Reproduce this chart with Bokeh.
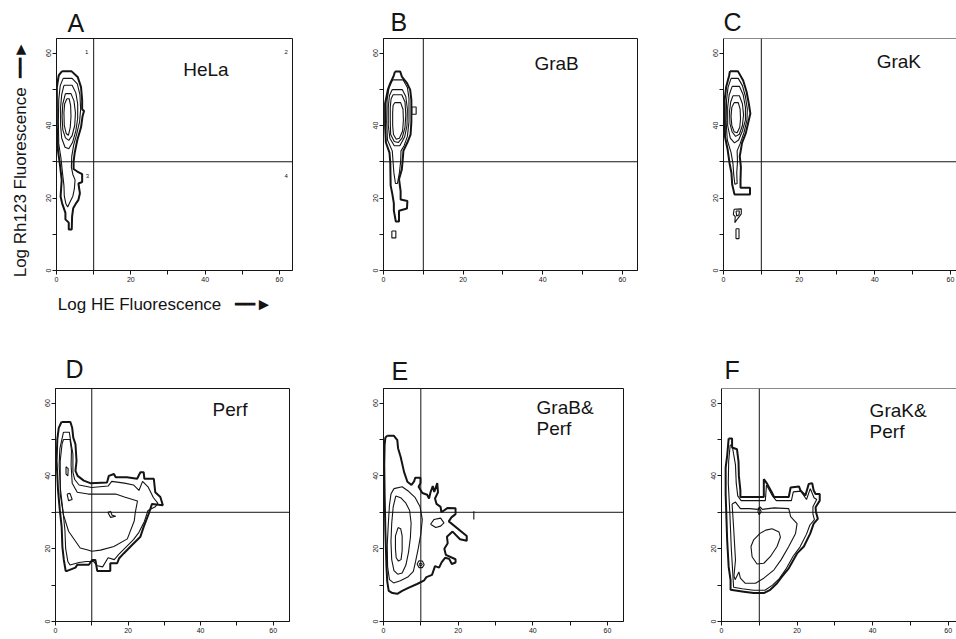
from bokeh.plotting import figure
from bokeh.layouts import row, column
from bokeh.models import Range1d, Span, Label, FixedTicker
from bokeh.embed import file_html
from bokeh.resources import INLINE

# ---------------- data ----------------
AXIS_MAX = 64
LABELED_TICKS = [0, 20, 40, 60]
UNLABELED_TICKS = [10, 30, 50]
gate_x = 10          # vertical quadrant marker (Log HE)
gate_y = 30          # horizontal quadrant marker (Log Rh123)

panel_letters = ["A", "B", "C", "D", "E", "F"]
panel_names = [["HeLa"], ["GraB"], ["GraK"], ["Perf"], ["GraB&", "Perf"], ["GraK&", "Perf"]]
quadrant_numbers = ["1", "2", "3", "4"]
x_axis_title = "Log HE Fluorescence"
y_axis_title = "Log Rh123 Fluorescence"
ARROW = "\u2501\u2501\u25BA"

# contour lines: (Log HE, Log Rh123)
A_c1 = [(1.5,55.0),(4.0,55.0),(5.7,53.4),(6.6,50.6),(6.9,47.0),(6.9,44.5),(7.4,44.0),(7.0,42.5),(6.6,39.5),
        (5.6,36.0),(4.9,32.5),(4.6,30.0),(4.6,28.0),(5.6,27.3),(6.9,26.6),(6.9,24.4),(5.9,24.0),(6.3,21.3),
        (5.9,19.5),(5.3,18.6),(4.5,17.2),(4.2,14.9),(4.1,11.3),(3.3,11.3),(3.3,13.2),(2.4,14.1),(2.4,15.9),
        (1.5,18.6),(1.1,20.4),(1.4,25.0),(0.9,29.4),(0.4,33.1),(0.1,39.5),(0.1,50.6),(0.6,53.8),(1.5,55.0)]
A_c2 = [(1.8,53.0),(4.2,53.0),(5.6,51.5),(6.3,48.5),(6.5,44.5),(6.2,41.0),(5.4,37.5),(4.6,34.5),(4.1,31.5),
        (4.0,28.5),(4.4,26.5),(5.0,25.0),(4.8,22.5),(4.4,20.5),(3.6,18.8),(3.0,17.5),(2.5,18.5),(2.1,20.5),
        (2.0,23.5),(1.6,27.0),(1.2,31.0),(0.6,35.0),(0.5,41.0),(0.6,47.0),(1.0,51.0),(1.8,53.0)]
A_c3 = [(2.0,51.1),(4.2,51.1),(5.2,49.0),(5.7,46.0),(5.7,42.0),(5.2,38.5),(4.3,35.3),(3.3,33.6),(2.3,34.0),
        (1.4,36.5),(1.1,40.0),(1.1,45.0),(1.4,48.5),(2.0,51.1)]
A_c4 = [(2.4,48.8),(3.9,48.8),(4.7,46.8),(5.1,43.5),(4.9,40.0),(4.2,37.2),(3.3,35.9),(2.4,36.6),(1.7,38.8),
        (1.5,42.5),(1.7,46.0),(2.4,48.8)]
A_c5 = [(2.8,47.4),(3.4,47.4),(3.8,45.5),(3.9,42.5),(3.7,39.5),(3.2,37.3),(2.6,37.8),(2.1,40.0),(2.0,43.5),
        (2.2,46.0),(2.8,47.4)]

B_c1 = [(2.9,54.9),(4.2,54.9),(4.6,53.5),(5.9,51.7),(6.7,49.9),(7.0,47.0),(7.0,41.0),(6.8,37.5),(6.0,35.3),
        (5.0,33.0),(4.8,30.2),(4.6,27.9),(3.9,25.2),(4.3,21.9),(4.3,19.6),(6.0,19.2),(5.9,17.1),(3.9,16.5),
        (3.9,13.5),(3.1,13.5),(2.6,16.5),(2.6,18.5),(2.2,21.2),(1.8,23.4),(1.7,29.8),(1.5,32.5),(0.6,35.3),
        (0.4,40.0),(0.4,46.0),(1.1,49.9),(1.7,51.7),(2.5,53.5),(2.9,54.9)]
B_c2 = [(2.3,52.6),(4.9,52.6),(6.0,50.5),(6.4,47.5),(6.4,41.0),(6.0,37.0),(5.2,34.5),(4.4,33.0),(4.3,30.0),
        (4.0,27.0),(3.5,24.0),(3.0,24.0),(2.6,27.0),(2.4,30.0),(2.2,33.0),(1.0,36.0),(0.8,41.0),(0.9,47.0),
        (1.4,50.5),(2.3,52.6)]
B_c3 = [(2.2,49.9),(4.7,49.9),(5.6,48.0),(6.0,44.5),(5.9,40.0),(5.3,36.8),(4.1,34.4),(2.7,34.4),(1.6,36.5),
        (1.2,40.0),(1.2,45.0),(1.5,48.3),(2.2,49.9)]
B_c4 = [(2.4,48.5),(4.6,48.5),(5.4,46.5),(5.6,43.0),(5.4,39.5),(4.7,36.6),(3.7,35.3),(2.7,35.6),(1.8,37.5),
        (1.7,41.0),(1.7,45.0),(1.9,47.3),(2.4,48.5)]
B_c5 = [(2.8,46.3),(4.3,46.3),(4.9,44.5),(5.0,41.5),(4.8,38.5),(4.0,36.5),(3.2,36.2),(2.5,37.5),(2.3,40.0),
        (2.3,43.5),(2.4,45.5),(2.8,46.3)]
B_i1 = [(7.1,45.1),(8.2,45.1),(8.2,43.1),(7.1,43.1),(7.1,45.1)]
B_i2 = [(2.1,10.9),(3.1,10.9),(3.1,9.0),(2.1,9.0),(2.1,10.9)]

C_c1 = [(1.7,55.0),(3.8,55.0),(5.2,52.4),(6.1,49.3),(6.7,46.0),(7.1,43.3),(6.7,41.5),(5.9,37.9),(4.9,35.2),
        (4.3,31.5),(4.6,28.5),(4.5,25.1),(4.5,22.8),(7.0,22.8),(7.0,21.0),(2.9,21.0),(2.3,23.7),(2.1,26.9),
        (1.6,29.6),(1.1,33.3),(0.4,36.9),(0.3,47.0),(0.7,50.6),(1.5,53.8),(1.7,55.0)]
C_c2 = [(2.0,53.0),(3.9,53.0),(5.0,51.0),(5.8,48.0),(6.3,44.5),(6.2,41.5),(5.4,38.0),(4.4,35.0),(3.6,33.0),
        (3.7,30.0),(3.5,27.0),(3.6,24.0),(3.0,23.8),(2.7,26.5),(2.5,29.5),(2.0,32.5),(1.0,36.0),(0.7,41.0),
        (0.8,47.0),(1.2,50.5),(2.0,53.0)]
C_c3 = [(2.3,50.8),(4.2,50.8),(5.2,48.5),(5.8,45.0),(5.8,41.5),(5.0,38.5),(4.0,36.0),(2.9,35.2),(1.8,36.5),
        (1.1,40.0),(1.1,45.0),(1.5,48.5),(2.3,50.8)]
C_c4 = [(2.5,48.2),(4.2,48.2),(5.0,46.0),(5.3,43.0),(5.0,40.0),(4.2,37.6),(3.2,37.0),(2.3,38.2),(1.7,40.5),
        (1.6,44.0),(1.9,46.5),(2.5,48.2)]
C_c5 = [(2.8,46.3),(3.9,46.3),(4.4,44.5),(4.5,41.8),(4.3,39.5),(3.6,38.0),(2.8,38.3),(2.2,40.0),(2.0,42.5),
        (2.2,45.0),(2.8,46.3)]
C_i1 = [(2.8,16.9),(4.7,17.0),(4.7,15.6),(3.8,14.4),(3.0,13.2),(3.1,14.9),(2.6,15.4),(2.8,16.9)]
C_i2 = [(3.3,16.4),(4.2,16.4),(4.1,15.4),(3.5,15.0),(3.3,16.4)]
C_i3 = [(3.3,11.5),(4.1,11.5),(4.1,8.8),(3.3,8.8),(3.3,11.5)]

D_c1 = [(1.65,54.8),(4.1,54.8),(4.6,53.2),(4.9,50.5),(5.5,48.7),(5.8,44.1),(5.5,41.4),(6.1,40.0),(7.8,38.7),
        (9.6,38.0),(14.2,38.2),(14.7,40.0),(16.1,40.5),(16.6,39.6),(19.7,39.6),(22.5,39.2),(23.4,41.0),(24.3,41.0),
        (24.5,39.2),(27.1,39.2),(27.5,35.5),(28.9,34.2),(29.6,31.9),(26.6,32.3),(25.7,29.6),(24.3,26.0),
        (23.4,23.3),(21.1,21.0),(18.8,18.7),(17.5,17.3),(17.0,16.0),(15.1,16.0),(15.1,13.9),(11.5,13.9),
        (11.0,16.9),(10.1,16.9),(9.2,15.6),(6.0,15.6),(5.5,14.8),(3.2,13.9),(2.8,13.9),(2.3,16.9),(1.9,20.5),
        (1.7,26.0),(1.2,30.5),(0.7,36.0),(0.3,44.1),(0.5,50.0),(0.9,53.2),(1.65,54.8)]
D_c2 = [(2.2,52.0),(3.8,52.0),(4.2,49.5),(4.8,46.0),(4.8,41.0),(5.3,39.0),(6.5,37.5),(10.0,36.8),(14.5,37.2),
        (15.5,38.5),(19.0,38.0),(21.5,37.5),(23.0,36.0),(24.0,38.5),(25.5,37.0),(27.0,34.0),(28.2,32.5),
        (27.5,31.5),(25.5,30.5),(24.5,27.5),(23.0,24.5),(21.5,22.5),(19.5,20.5),(17.5,18.5),(16.2,17.0),
        (14.5,17.5),(13.0,15.0),(11.5,15.3),(10.5,16.5),(8.5,16.5),(6.5,16.2),(4.0,15.5),(3.4,16.5),(2.8,20.0),
        (2.6,25.0),(2.1,30.0),(1.4,36.0),(1.0,43.0),(1.2,47.5),(2.2,52.0)]
D_c3 = [(2.2,50.0),(4.0,50.0),(4.4,47.0),(4.3,43.0),(4.6,38.0),(6.0,35.5),(9.0,35.0),(13.0,35.0),(16.6,35.0),
        (19.0,34.2),(22.6,33.1),(22.0,30.0),(21.7,27.6),(19.8,22.7),(16.1,20.6),(12.4,19.6),(10.0,19.3),
        (8.7,19.7),(6.8,20.2),(3.6,24.8),(2.2,29.3),(1.3,35.0),(1.3,44.1),(1.8,48.7),(2.2,50.0)]
D_i1 = [(2.9,42.5),(3.5,42.0),(3.4,40.0),(2.9,40.5),(2.9,42.5)]
D_i2 = [(3.2,35.0),(4.0,35.2),(4.6,33.5),(3.6,33.2),(3.2,35.0)]
D_i3 = [(14.4,30.0),(15.2,30.2),(15.6,29.2),(16.6,28.9),(15.2,28.6),(14.4,30.0)]

E_c1 = [(1.0,51.0),(2.8,51.0),(3.7,49.8),(3.9,47.6),(4.6,45.2),(5.5,41.1),(6.4,38.4),(7.5,37.5),(8.2,38.5),
        (8.5,39.5),(9.9,39.5),(9.9,38.0),(9.4,37.0),(10.4,35.3),(11.7,34.8),(12.2,33.8),(12.6,35.5),(13.2,37.2),
        (13.6,35.6),(14.4,38.0),(14.6,35.5),(13.8,33.8),(14.2,32.3),(15.3,31.5),(15.5,30.0),(17.2,31.2),
        (19.3,31.1),(19.3,29.5),(18.2,28.6),(17.5,27.5),(22.3,23.5),(22.3,22.2),(20.5,22.6),(18.5,24.7),
        (17.0,23.3),(17.2,21.5),(16.3,20.0),(16.7,18.3),(19.3,17.1),(19.3,16.2),(18.3,15.8),(17.6,17.2),
        (16.5,17.5),(15.6,16.3),(14.9,14.8),(13.8,15.2),(13.0,12.8),(11.5,12.2),(10.8,11.2),(9.0,10.3),
        (6.8,9.3),(5.0,8.4),(3.7,7.6),(2.4,7.8),(1.4,8.4),(1.0,11.0),(0.8,15.0),(0.5,25.0),(0.3,35.0),
        (0.2,43.0),(0.3,48.5),(0.5,50.5),(1.0,51.0)]
E_c2 = [(2.8,36.5),(5.0,37.0),(6.8,35.7),(8.5,34.0),(9.8,31.5),(10.4,28.0),(10.0,24.0),(9.3,20.0),(8.6,16.5),
        (8.0,13.8),(6.5,12.2),(4.5,11.2),(2.7,10.6),(1.6,11.5),(1.1,15.0),(1.0,21.0),(1.3,27.0),(1.6,32.0),
        (2.0,35.0),(2.8,36.5)]
E_c3 = [(3.3,34.5),(4.6,34.0),(6.0,32.5),(7.0,30.5),(7.4,27.0),(7.2,23.0),(6.7,19.0),(6.0,15.5),(5.0,13.3),
        (3.8,13.0),(2.8,14.0),(2.2,17.0),(2.0,22.0),(2.2,27.0),(2.6,31.5),(3.3,34.5)]
E_c4 = [(3.9,25.8),(4.6,25.5),(5.0,23.5),(5.0,19.5),(4.7,17.0),(4.0,16.6),(3.4,17.5),(3.2,20.0),(3.2,23.5),
        (3.9,25.8)]
E_i1 = [(9.0,15.8),(9.5,16.7),(10.4,16.6),(10.9,15.6),(10.4,14.8),(9.5,14.8),(9.0,15.8)]
E_i2 = [(9.5,15.7),(9.9,16.1),(10.4,15.7),(9.9,15.2),(9.5,15.7)]
E_i3 = [(12.6,26.7),(13.5,28.0),(15.3,28.4),(16.2,27.1),(15.3,26.2),(14.0,25.8),(12.6,26.7)]
E_i4 = [(24.2,30.3),(24.2,28.0)]

F_c1 = [(1.9,50.3),(2.8,50.3),(2.8,47.8),(4.1,47.3),(4.5,44.0),(4.6,40.0),(5.0,36.0),(5.0,34.2),(11.2,34.2),
        (11.2,39.1),(12.1,37.8),(13.3,35.5),(13.9,34.2),(17.8,34.2),(18.3,36.8),(20.5,37.1),(20.9,36.0),
        (22.2,34.6),(23.1,37.8),(24.0,38.0),(24.4,36.0),(24.9,35.0),(26.0,35.0),(26.0,33.2),(24.9,31.4),
        (25.0,30.1),(25.5,28.2),(24.4,26.9),(23.5,24.2),(21.8,20.6),(20.0,18.7),(17.8,14.6),(16.0,12.3),
        (14.7,10.5),(12.9,8.7),(11.2,7.8),(8.5,7.8),(5.9,8.2),(2.4,8.7),(2.4,11.4),(1.9,15.0),(1.5,22.3),
        (1.1,35.0),(1.1,42.3),(1.5,45.5),(1.9,50.3)]
F_c2 = [(2.3,48.5),(2.8,48.5),(3.2,46.0),(3.7,43.0),(3.9,38.0),(4.3,34.5),(5.2,33.2),(11.6,33.2),(11.9,37.5),
        (13.5,34.5),(14.5,33.2),(18.5,33.2),(19.0,35.6),(21.0,35.8),(22.5,33.5),(23.5,36.5),(24.5,34.0),
        (25.2,33.5),(24.2,31.5),(24.2,29.5),(24.6,28.0),(23.4,26.5),(22.5,24.0),(20.8,20.5),(19.0,18.0),
        (17.0,14.3),(15.3,11.8),(13.5,10.0),(11.5,8.6),(8.5,8.6),(5.5,9.0),(3.2,9.4),(3.0,13.0),(2.6,20.0),
        (2.2,30.0),(1.8,38.0),(1.9,44.0),(2.3,48.5)]
F_c3 = [(2.8,32.3),(3.7,32.8),(5.0,31.0),(7.5,31.0),(9.5,30.8),(10.2,31.5),(10.8,30.8),(13.9,31.2),(17.8,31.0),
        (18.3,28.8),(20.0,26.9),(19.6,24.2),(17.8,20.6),(15.8,17.0),(13.9,14.2),(11.2,11.9),(9.0,10.5),
        (6.3,10.5),(5.0,11.9),(4.6,13.6),(3.6,11.5),(3.3,12.5),(3.7,16.9),(3.2,25.9),(2.8,32.3)]
F_c4 = [(13.4,25.5),(15.2,24.6),(15.6,23.2),(14.7,20.6),(12.9,17.8),(11.2,16.0),(9.4,15.8),(8.1,17.8),
        (7.8,20.6),(8.5,22.4),(10.2,24.2),(11.7,25.1),(13.4,25.5)]
F_i1 = [(9.6,30.2),(10.0,31.3),(10.5,30.2),(10.0,29.3),(9.6,30.2)]

outer_contours = [A_c1, B_c1, C_c1, D_c1, E_c1, F_c1]
inner_contours = [
    [A_c2, A_c3, A_c4, A_c5],
    [B_c2, B_c3, B_c4, B_c5, B_i1, B_i2],
    [C_c2, C_c3, C_c4, C_c5, C_i1, C_i2, C_i3],
    [D_c2, D_c3, D_i1, D_i2, D_i3],
    [E_c2, E_c3, E_c4, E_i1, E_i2, E_i3, E_i4],
    [F_c2, F_c3, F_c4, F_i1],
]

# ---------------- layout / style ----------------
INK = "#141414"
FONT = "Liberation Sans"
NBSP = "\u00a0"

# width, height, min_border (left, right, top, bottom), x range end
geom = [
    (330, 340, 56, 38, 38, 70, 63.5),
    (340, 340, 53, 33, 38, 68, 63.8),
    (286, 340, 53, 0, 37, 68, 61.6),
    (330, 299, 55, 41, 48, 17, 64.5),
    (340, 299, 53, 47, 46, 18, 64.3),
    (286, 299, 51, 0, 47, 17, 62.2),
]
letter_offset = [11, 7, 0, 10, 8, 3]     # px from frame left
letter_standoff = [4, 5, 5, 12, 8, 9]    # px above frame
name_pos = [(34.1, 55.5), (37.9, 57.0), (40.5, 57.6), (43.3, 58.3), (41.0, 58.7), (39.2, 58.0)]
name_line_step = [0, 0, 0, 0, 5.8, 5.8]


def style_axes(p):
    p.grid.visible = False
    for ax in (p.xaxis[0], p.yaxis[0]):
        ax.ticker = FixedTicker(ticks=LABELED_TICKS, minor_ticks=UNLABELED_TICKS)
        ax.axis_line_color = INK
        ax.axis_line_width = 1
        ax.major_tick_line_color = INK
        ax.minor_tick_line_color = INK
        ax.major_tick_out = 4
        ax.major_tick_in = 0
        ax.minor_tick_out = 4
        ax.minor_tick_in = 0
        ax.major_label_text_font = FONT
        ax.major_label_text_font_size = "7px"
        ax.major_label_text_color = INK
        ax.major_label_standoff = 2
    p.yaxis[0].major_label_orientation = "vertical"


panels = []
for i in range(6):
    w, h, bl, br, bt, bb, xend = geom[i]
    p = figure(width=w, height=h, x_range=Range1d(0, xend), y_range=Range1d(0, AXIS_MAX),
               min_border_left=bl, min_border_right=br, min_border_top=bt, min_border_bottom=bb,
               output_backend="svg", toolbar_location=None, tools="")
    p.background_fill_color = "white"
    p.border_fill_color = "white"
    style_axes(p)
    if br == 0:
        p.outline_line_color = None
        p.add_layout(Span(location=AXIS_MAX, dimension="width", line_color=INK, line_width=1))
    else:
        p.outline_line_color = INK
        p.outline_line_width = 1
        p.outline_line_alpha = 1

    # panel letter as title
    p.title.text = panel_letters[i]
    p.title.text_font = FONT
    p.title.text_font_size = "25px"
    p.title.text_font_style = "normal"
    p.title.text_color = INK
    p.title.align = "left"
    p.title.offset = letter_offset[i]
    p.title.standoff = letter_standoff[i]

    # quadrant markers
    p.add_layout(Span(location=gate_x, dimension="height", line_color=INK, line_width=1))
    p.add_layout(Span(location=gate_y, dimension="width", line_color=INK, line_width=1))

    # contours
    for cont in inner_contours[i]:
        p.line([q[0] for q in cont], [q[1] for q in cont], line_color=INK, line_width=1.1)
    cont = outer_contours[i]
    p.line([q[0] for q in cont], [q[1] for q in cont], line_color=INK, line_width=2.0)

    # sample name
    nx, ny = name_pos[i]
    for k, line in enumerate(panel_names[i]):
        p.add_layout(Label(x=nx, y=ny - k * name_line_step[i], text=line, text_font=FONT,
                           text_font_size="19px", text_color=INK, text_baseline="alphabetic",
                           text_align="left"))
    panels.append(p)

# panel A extras: quadrant numbers and axis titles with arrows
pA = panels[0]
quad_xy = [(8.1, 60.2), (61.8, 60.2), (8.3, 26.0), (61.8, 26.0)]
for t, (qx, qy) in zip(quadrant_numbers, quad_xy):
    pA.add_layout(Label(x=qx, y=qy, text=t, text_font=FONT, text_font_size="6px", text_color=INK,
                        text_align="center", text_baseline="middle"))

xa = pA.xaxis[0]
xa.axis_label = x_axis_title + NBSP * 3 + ARROW + NBSP * 4
xa.axis_label_text_font = FONT
xa.axis_label_text_font_size = "17px"
xa.axis_label_text_font_style = "normal"
xa.axis_label_text_color = INK
xa.axis_label_standoff = 10

ya = pA.yaxis[0]
ya.axis_label = y_axis_title + NBSP * 2 + ARROW + NBSP * 2
ya.axis_label_text_font = FONT
ya.axis_label_text_font_size = "17px"
ya.axis_label_text_font_style = "normal"
ya.axis_label_text_color = INK
ya.axis_label_standoff = 13

layout = column(row(panels[0], panels[1], panels[2]), row(panels[3], panels[4], panels[5]))
open("out.html", "w").write(file_html(layout, INLINE))
